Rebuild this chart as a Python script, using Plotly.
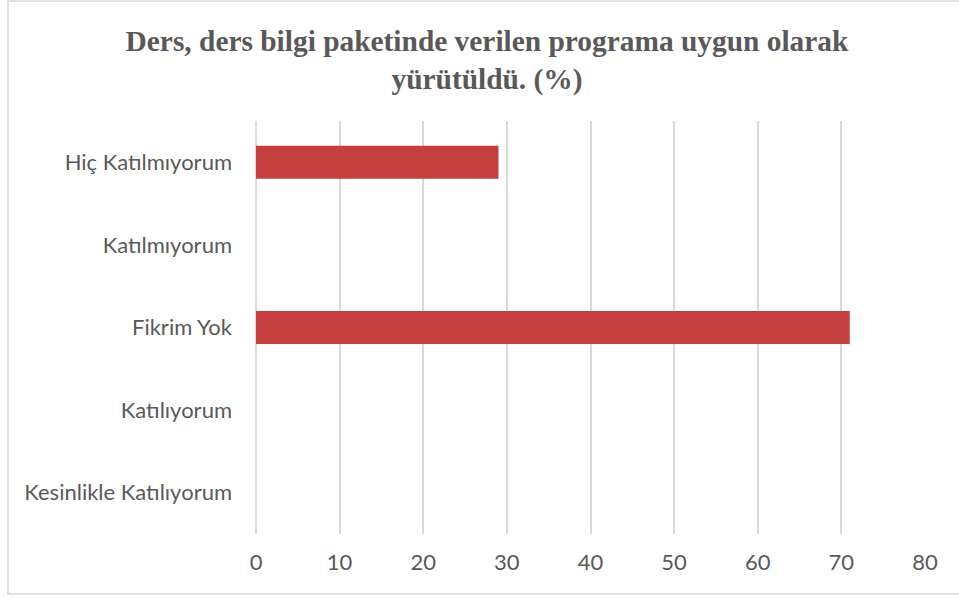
import plotly.graph_objects as go

categories = ["Hiç Katılmıyorum", "Katılmıyorum", "Fikrim Yok", "Katılıyorum", "Kesinlikle Katılıyorum"]
values = [29, 0, 71, 0, 0]
x_ticks = [0, 10, 20, 30, 40, 50, 60, 70, 80]
title_lines = ["Ders, ders bilgi paketinde verilen programa uygun olarak", "yürütüldü. (%)"]

W, H = 959, 601
L, R, T, B = 256, 34, 121, 67

fig = go.Figure()
fig.add_trace(go.Bar(
    x=values, y=categories, orientation="h",
    marker=dict(color="#c43f3e", line=dict(color="#a83433", width=0)),
    width=0.4,
))

pw = W - L - R
ph = H - T - B
fig.add_shape(type="rect", xref="paper", yref="paper",
              x0=(8 - L) / pw, x1=(966 - L) / pw,
              y0=(H - B - 594) / ph, y1=(H - B - 1) / ph,
              line=dict(color="#d9d9d9", width=1.5), fillcolor="rgba(0,0,0,0)", layer="below")

fig.update_layout(
    width=W, height=H,
    margin=dict(l=L, r=R, t=T, b=B, pad=0),
    paper_bgcolor="white", plot_bgcolor="white",
    showlegend=False,
    title=dict(text="<br>".join("<b>" + s + "</b>" for s in title_lines),
               x=487 / W, xanchor="center", y=1 - 51 / H, yanchor="top",
               font=dict(family="Liberation Serif", size=29.4, color="#595959")),
    font=dict(family="Lato", size=22, color="#595959"),
)
fig.update_xaxes(range=[0, 80], tickvals=x_ticks, showgrid=True, gridcolor="#d9d9d9", gridwidth=1.5,
                 zeroline=True, zerolinecolor="#d9d9d9", zerolinewidth=1.5, showline=False,
                 ticks="", ticklabelstandoff=13, tickfont=dict(size=22, color="#595959"))
fig.update_yaxes(categoryorder="array", categoryarray=categories, autorange="reversed",
                 showgrid=False, showline=False, ticks="", ticklabelstandoff=23,
                 tickfont=dict(size=22, color="#595959"))

fig.write_html("out.html", config={"displayModeBar": False},
               post_script="document.body.style.margin='0';")
